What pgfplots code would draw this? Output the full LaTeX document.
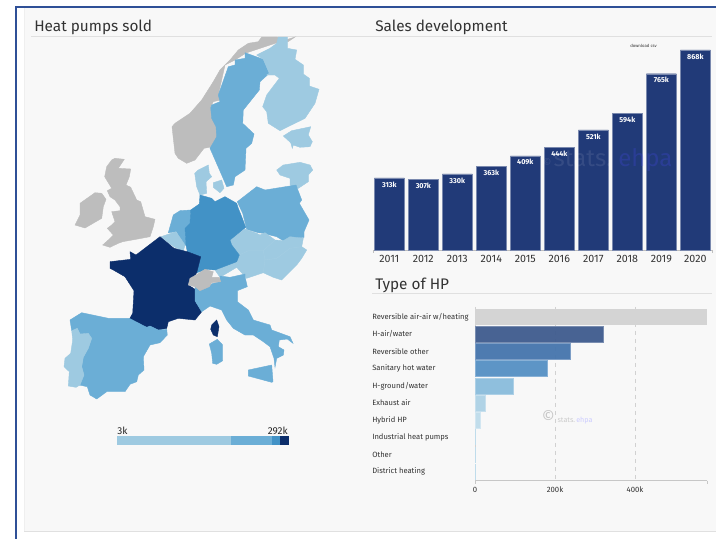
\documentclass[border=0pt]{standalone}
\usepackage{fontspec}
\setmainfont{Fira Sans}
\usepackage{pgfplots}
\pgfplotsset{compat=1.18}
\definecolor{dk}{HTML}{0C2E6B}
\definecolor{md}{HTML}{4292C6}
\definecolor{bl}{HTML}{6BAED6}
\definecolor{lt}{HTML}{9ECAE1}
\definecolor{gy}{HTML}{BDBDBD}
\definecolor{frame}{HTML}{2F5097}
\definecolor{panel}{HTML}{F8F8F8}
\definecolor{rule}{HTML}{E0E0E0}
\definecolor{txt}{HTML}{333333}
\definecolor{barc}{HTML}{213A78}
\definecolor{HPa}{HTML}{3F5C8E}
\definecolor{HPb}{HTML}{4575AD}
\definecolor{HPc}{HTML}{5590C4}
\definecolor{HPd}{HTML}{8ABCDC}
\definecolor{HPe}{HTML}{ADD2E6}
\definecolor{HPf}{HTML}{BFDCEB}
\newcommand\cty[2]{\addplot[fill=#1,draw=#1,line width=.3pt] coordinates {#2} --cycle;}
\newcommand\fs[1]{\fontsize{#1}{#1}\selectfont}
\begin{document}
\begin{tikzpicture}[x=1pt,y=1pt]
\path[use as bounding box] (0,0) rectangle (537pt,404.25pt);
\begin{axis}[at={(0pt,0pt)},anchor=south west,width=537pt,height=404.25pt,scale only axis,
  xmin=0,xmax=716,ymin=0,ymax=539,y dir=reverse,hide axis,no markers]
\fill[white] (axis cs:0,0) rectangle (axis cs:716,539);
\fill[panel] (axis cs:24,8) rectangle (axis cs:716,531);
\fill[rule] (axis cs:24,531) rectangle (axis cs:716,532);
\fill[rule!50] (axis cs:24,8) rectangle (axis cs:25,531);
\fill[frame] (axis cs:14.5,6) rectangle (axis cs:716,8);
\fill[frame] (axis cs:14.5,6) rectangle (axis cs:16.5,539);
\fill[rule] (axis cs:31,36) rectangle (axis cs:712,37);
\fill[rule] (axis cs:372,293) rectangle (axis cs:712,294);
% map
\cty{gy}{(295,37)(288,41.7)(276.7,37)(261.7,37)(258.3,41.7)(248.3,43.3)(238.3,50)(230,60)(220,70)(213.3,81.7)(201.7,100)(190,113.3)(175,123.3)(172,126.7)(175,153.3)(178.3,158.3)(186.7,163.3)(195,160)(204,148.3)(211,147)(217,136.7)(217,126.7)(213.3,116.7)(210.7,106.7)(213.3,101.7)(220,100)(218.3,95)(225,65)(235,60)(246,53)(270,45)}
\cty{bl}{(245,52.7)(263.3,59.3)(269.3,73.3)(260,81.7)(259.3,90)(243.3,110)(242.7,123.3)(254,134)(251.7,143.3)(246,148.3)(245,170)(235,176.7)(233.3,185)(226.7,186.7)(221.7,175)(210,148.3)(216.7,136.7)(216,126.7)(211.7,118.3)(210.7,108)(211.7,105)(220,101.7)(218.3,95)(228.3,66.7)(235,65)(235,60)(245,58.3)}
\cty{lt}{(278.3,37)(287.3,37)(287.3,48.3)(296.7,50)(295,59.3)(303.3,65)(303.3,74)(309.3,78.3)(309.3,86)(319,89.3)(315,103.3)(305,118.3)(280,130.7)(268.3,123.3)(266.7,111.7)(262.7,106.7)(266.7,95)(279.3,78.3)(275,75)(266.7,75)(269.3,73.3)(263.3,59.3)(256.7,55)(270,48.3)(276.7,43.3)}
\cty{lt}{(283.3,136)(291.7,130.7)(310.7,126.7)(308.3,135)(312.3,141.7)(310,146.7)(300,147.3)(293.3,145)(292.3,148.3)(290.7,142.7)}
\cty{lt}{(276.7,170)(283.3,165)(300,162.3)(310,165)(312.7,170)(308.3,175)(308.3,181.7)(298.3,188.3)(290,185)(290,178.3)(280,175)}
\cty{lt}{(208.3,165)(209.3,173.3)(211.7,176.7)(206,181.7)(206.7,193.3)(200,195)(196.7,186.7)(194.7,173.3)(198.3,170)}
\cty{lt}{(213.3,182.7)(221.7,180)(224,188.3)(220,192.7)(213.3,187.3)}
\cty{gy}{(111.7,160)(115,158.3)(124.3,159.3)(118.3,168.3)(130.7,169)(129.3,176.7)(126,185)(130.7,187.3)(136.7,200)(140.7,201.7)(145,216.7)(155,219.3)(153.3,226.7)(150,236.7)(139.3,238.7)(122.7,241.7)(118.3,243.3)(110,247.3)(102.7,245)(108.3,240)(113.3,235)(107.3,228.3)(111.7,225)(115,221.7)(111.7,211.7)(120,210.7)(120,206.7)(115,200)(110,196.7)(107.3,190.7)(111.7,188.3)(107.7,181.7)(104.7,176.7)(106.7,166.7)}
\cty{gy}{(80,203.3)(95,192.7)(101.7,193.3)(106,199.3)(103.3,206.7)(101.7,218.3)(85,228)(75,225)(80,215)}
\cty{bl}{(190.7,210)(190,223.3)(185,228.3)(186,245)(183.3,246)(176.7,231.7)(168.3,232.7)(173.3,215)(180,210.7)}
\cty{lt}{(161,236.7)(176,231.7)(185,245)(183.3,251)(175,247.3)(169,243.3)}
\cty{bl}{(237.3,201.7)(256.7,186.7)(265,190)(296,185)(301.7,200)(299.3,203.3)(309,220)(304,231.7)(304,237.3)(293.3,238.3)(283.3,240.7)(276.7,236.7)(263.3,233.3)(258.3,232.7)(246.7,229.3)(242.7,213.3)}
\cty{lt}{(230,240)(245,229)(256.7,233.3)(260,235)(265,232.7)(275,240)(283.3,240.7)(290,236.7)(303.3,238.3)(301.7,246.7)(306.7,250)(301.7,258.3)(296.7,265)(281.7,280)(273.3,277.3)(263.3,272.7)(246.7,278.3)(236.7,267.3)(220,277.3)(215,270)(236.7,261.7)(239.3,255)(231.7,245)}
\addplot[draw=lt!93!white,line width=.3pt] coordinates {(239.3,255)(248.3,250.7)(263.3,250.7)(265,260)(276.7,258.3)(290,248.3)(301.7,246.7)};
\addplot[draw=lt!93!white,line width=.3pt] coordinates {(263.3,250.7)(275,240)};
\addplot[draw=lt!93!white,line width=.3pt] coordinates {(263.3,272.7)(265,260)};
\cty{md}{(200,195)(211.7,198.3)(215,201.7)(225,196.7)(236.7,203.3)(238.3,208.3)(241.7,216.7)(245.7,227.3)(230,240)(231.7,245)(239.3,255)(236.7,261.7)(215,270)(206.7,269.3)(196.7,272.7)(200.7,256.7)(187.3,251.7)(186,245)(185,228.3)(190,223.3)(190.7,210)(199.3,204)}
\cty{dk}{(160,236.7)(174,248.3)(183.3,250.7)(187.3,251.7)(200.7,256.7)(196.7,272.7)(188.3,285)(196,290)(195,296.7)(195,300.7)(201.7,311.7)(195,320)(178.3,318.3)(168.3,321.7)(166.7,328.3)(158.3,330)(150,326)(146.7,327.3)(129.3,319.3)(132.7,313.3)(134,290.7)(125,276.7)(113.3,270)(110,268.3)(110,261.7)(130.7,259.3)(130,251.7)(136,255)}
\cty{bl}{(245,276.7)(247.3,286.7)(237.3,290.7)(237.3,301.7)(248.3,310)(253.3,320)(270,325)(271.7,330)(290,336.7)(293,343.3)(287.3,339)(279.3,340)(278.3,346.7)(284,350)(283.3,355)(276.7,358.3)(275,367.3)(274,358.3)(270,346.7)(263.3,341.7)(253.3,335)(245,335)(233.3,328.3)(226.7,320)(221.7,310)(210,306)(201.7,311.7)(195,300.7)(195,286.7)(200,290)(213.3,283.3)(220,281.7)(220,276)(230,277.3)(245,274)}
\cty{gy}{(188.3,285)(190,278.3)(196,275)(205,269.3)(213.3,271.7)(211.7,277.3)(219.3,277.3)(220.7,281.7)(211.7,282.7)(209.3,286.7)(200,290.7)(195,286.7)}
\cty{bl}{(248.3,370)(271.7,365)(273,381.7)(271.7,382.3)(248.3,376)}
\cty{bl}{(209.3,344)(217.3,339.3)(222.7,345)(222.7,360.7)(216.7,364.3)(212.7,363.3)(211.7,353.3)}
\cty{dk}{(211.7,325)(216.7,320)(219,326.7)(217.3,336.7)(213.3,335)(210.7,329.3)}
\cty{bl}{(70,320)(81.7,312.7)(108.3,318.3)(129.3,318.3)(146.7,327.3)(150,326)(158.3,330)(166.7,329.3)(167.3,335)(160,342.7)(150,345)(143.3,356.7)(144,370)(138.3,375)(136.7,381.7)(130,384.3)(125,391.7)(106.7,391.7)(96.7,399)(90,395)(87.3,386.7)(79.3,385)(84,375)(81.7,366.7)(83.3,357.3)(88.3,348.3)(91.7,338.3)(88.3,334)(80,334)(77.3,328.3)(71.7,330.7)}
\cty{lt}{(71.7,330.7)(77.3,328.3)(80,334)(88.3,333.3)(91.7,338.3)(88.3,348.3)(83.3,357.3)(81.7,366.7)(84,375)(80,385)(76,387.3)(68.3,386)(69.3,371.7)(64,366.7)(65,358.3)(70.7,353.3)(72.7,340)}
% colour scale
\cty{lt}{(117,436)(231,436)(231,444)(117,444)}
\cty{bl}{(231,436)(272,436)(272,444)(231,444)}
\cty{md}{(272,436)(280,436)(280,444)(272,444)}
\cty{dk}{(280,436)(288,436)(288,444)(280,444)}
\node[anchor=west,inner sep=0pt,font=\fs{7.5},text=black!85] at (axis cs:117,431) {3k};
\node[anchor=east,inner sep=0pt,font=\fs{7.5},text=black!85] at (axis cs:288,431) {292k};
% titles
\node[anchor=base west,inner sep=0pt,font=\fs{11.5},text=txt] at (axis cs:34,31.5) {Heat pumps sold};
\node[anchor=base west,inner sep=0pt,font=\fs{11.5},text=txt] at (axis cs:375,31.5) {Sales development};
\node[anchor=base west,inner sep=0pt,font=\fs{11.5},text=txt] at (axis cs:375,289) {Type of HP};
\node[inner sep=0pt,font=\fs{3.2},text=txt] at (axis cs:643.5,46) {download csv};
\end{axis}
% sales development: 339 px wide, baseline at y=250.5
\begin{axis}[at={(279.75pt,216.75pt)},anchor=south west,width=254.25pt,height=150pt,scale only axis,
  xmin=2010.52,xmax=2020.49,ymin=0,ymax=868,
  ybar,bar width=22.5pt,bar shift=0pt,
  axis y line=none,axis x line=bottom,axis line style={-,draw=black!25,line width=.5pt},
  xtick=data,major tick length=0pt,
  /pgf/number format/1000 sep={},/pgf/number format/assume math mode=true,
  xticklabel style={font=\fs{8},text=txt,inner sep=0pt,yshift=-4pt},
  clip=false,
  nodes near coords={\pgfmathprintnumber{\pgfplotspointmeta}k},
  every node near coord/.append style={anchor=north,font=\bfseries\fs{5.4},text=white,inner sep=0pt,yshift=-2.6pt}]
\addplot[fill=barc,draw=barc!60!white,line width=.3pt] coordinates {
(2011,313)(2012,307)(2013,330)(2014,363)(2015,409)(2016,444)(2017,521)(2018,594)(2019,765)(2020,868)};
\end{axis}
\draw[black!25,line width=.5pt] (279.75pt,216.75pt) -- (279.75pt,214.2pt) (534pt,216.75pt) -- (534pt,214.2pt);
\node[anchor=base west,inner sep=0pt,font=\fs{8},text=white,opacity=.1] at (407pt,279.2pt) {©};
\node[anchor=base west,inner sep=0pt,font=\fs{18},text=white,opacity=.09] at (415pt,279.2pt) {stats.};
\node[anchor=base west,inner sep=0pt,font=\fs{18},text=blue!70!white,opacity=.22] at (463.5pt,279.2pt) {ehpa};
% type of HP
\begin{axis}[at={(356.25pt,43.7pt)},anchor=south west,width=174.3pt,height=130.3pt,scale only axis,
  xmin=0,xmax=580.8,ymin=-0.58,ymax=9.52,y dir=reverse,
  xbar,bar width=12pt,bar shift=0pt,
  axis y line=left,axis x line=bottom,axis line style={-,draw=black!22,line width=.5pt},
  y axis line style={draw=none},
  xtick={0,200,400},xticklabels={0,200k,400k},major tick length=0pt,
  xticklabel style={font=\fs{5.8},text=txt,inner sep=0pt,yshift=-4.4pt},
  xmajorgrids,major grid style={dashed,draw=black!18,line width=.4pt},
  ytick={0,1,2,3,4,5,6,7,8,9},
  yticklabels={Reversible air-air w/heating,H-air/water,Reversible other,Sanitary hot water,H-ground/water,Exhaust air,Hybrid HP,Industrial heat pumps,Other,District heating},
  yticklabel style={anchor=west,font=\fs{5.7},text=txt,inner sep=0pt,xshift=-77.25pt},
  clip=false]
\addplot[fill=black!17,draw=none] coordinates {(580,0)};
\addplot[fill=HPa,fill opacity=.95,draw=HPa!70!white,line width=.3pt] coordinates {(320,1)};
\addplot[fill=HPb,fill opacity=.95,draw=HPb!70!white,line width=.3pt] coordinates {(239,2)};
\addplot[fill=HPc,fill opacity=.95,draw=HPc!70!white,line width=.3pt] coordinates {(181,3)};
\addplot[fill=HPd,fill opacity=.95,draw=HPd!70!white,line width=.3pt] coordinates {(95,4)};
\addplot[fill=HPe,fill opacity=.95,draw=HPe!70!white,line width=.3pt] coordinates {(25,5)};
\addplot[fill=HPf,fill opacity=.95,draw=HPf!70!white,line width=.3pt] coordinates {(12,6)};
\addplot[fill=HPf,draw=none] coordinates {(1,7)};
\addplot[fill=HPf,draw=none] coordinates {(0.5,8)};
\addplot[fill=HPf,draw=none] coordinates {(0.2,9)};
\end{axis}
\draw[black!22,line width=.5pt] (530.5pt,43.7pt) -- (530.5pt,41.2pt) (356.25pt,43.7pt) -- (356.25pt,41.2pt);
\node[inner sep=0pt,font=\fs{12},text=black!22] at (411.25pt,92pt) {©};
\node[anchor=west,inner sep=0pt,font=\fs{5.4},text=black!20] at (418pt,89pt) {stats.};
\node[anchor=west,inner sep=0pt,font=\fs{5.4},text=blue!20] at (432pt,89pt) {ehpa};
\end{tikzpicture}
\end{document}
